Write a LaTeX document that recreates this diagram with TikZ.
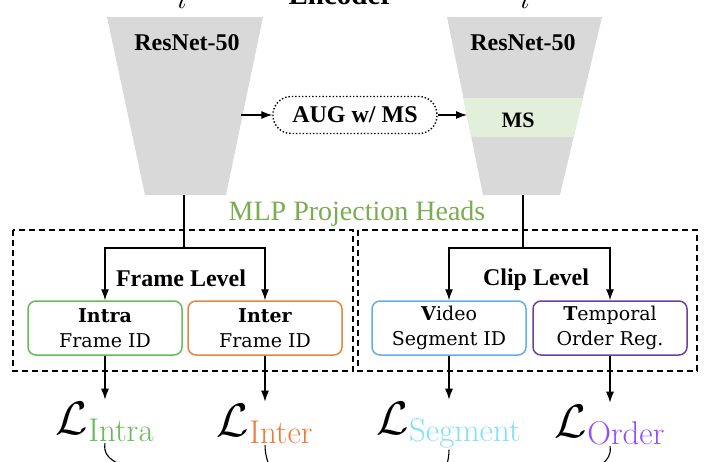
\documentclass[tikz,border=0pt]{standalone}
\usepackage{fix-cm}
\usepackage[no-math]{fontspec}
\setmainfont{Liberation Serif}
\newfontfamily\headfont{DejaVu Serif}
\usepackage{xcolor}
\usetikzlibrary{arrows.meta,positioning}

\definecolor{encgray}{RGB}{217,217,217}
\definecolor{msgreen}{RGB}{226,239,218}
\definecolor{mlpgreen}{RGB}{122,172,80}
\definecolor{intragreen}{RGB}{104,186,88}
\definecolor{interorange}{RGB}{224,136,62}
\definecolor{segblue}{RGB}{96,174,234}
\definecolor{orderpurple}{RGB}{108,64,160}
\definecolor{lossorange}{RGB}{236,124,60}
\definecolor{losscyan}{RGB}{130,222,255}
\definecolor{losspurple}{RGB}{140,80,255}

\begin{document}
\begin{tikzpicture}[
    x=1pt, y=-1pt,
    label/.style={font=\fontsize{24}{28}\selectfont\bfseries, inner sep=0pt},
    head/.style={rectangle, draw, rounded corners=8pt, line width=1.5pt, align=center, minimum width=154pt, minimum height=54pt, font=\headfont\fontsize{19}{25}\selectfont},
    group/.style={draw, dash pattern=on 6pt off 4pt, line width=1.2pt},
    arrow/.style={-{Latex[length=11pt,width=8pt]}, line width=1.2pt},
    loss/.style={font=\fontsize{47}{50}\selectfont, inner sep=2pt}
]
\useasboundingbox (0,0) rectangle (720,461);
\clip (0,0) rectangle (720,461);

\node[label, anchor=base, font=\fontsize{29}{30}\selectfont\bfseries] (enc) at (341,4) {Encoder};
\node[anchor=base, font=\fontsize{30}{30}\selectfont] (xa) at (182,8) {$i$};
\node[anchor=base, font=\fontsize{30}{30}\selectfont] (xb) at (525,8) {$i$};

\fill[encgray] (107,17) -- (263,17) -- (226,195) -- (145,195) -- cycle;
\begin{scope}
  \clip (447,17) -- (602,17) -- (560,195) -- (483,195) -- cycle;
  \fill[encgray] (440,10) rectangle (610,200);
  \fill[msgreen] (440,98) rectangle (610,137);
\end{scope}
\node[label] (res1) at (187,43) {ResNet-50};
\node[label] (res2) at (523,43) {ResNet-50};
\node[label, font=\fontsize{22}{26}\selectfont\bfseries] (ms) at (518,120) {MS};

\coordinate (e1out) at (241,115);
\coordinate (e2in) at (467,115);
\coordinate (e1bot) at (184,195);
\coordinate (e2bot) at (523,195);

\node[draw, dotted, line width=1.4pt, rounded corners=18pt, minimum width=164pt, minimum height=37pt, label, inner sep=0pt] (aug) at (355,115) {AUG w/ MS};
\draw[arrow] (e1out) -- (aug);
\draw[arrow] (aug) -- (e2in);

\node[font=\fontsize{28}{30}\selectfont, text=mlpgreen] (mlp) at (357,214) {MLP Projection Heads};
\draw[group] (13,230) rectangle (353,371);
\draw[group] (358,230) rectangle (697,371);

\node[label] (frame) at (181,278) {Frame Level};
\node[label] (clip) at (536,280) {Clip Level};

\node[head, draw=intragreen] (intra) at (105,328) {\textbf{Intra}\\Frame ID};
\node[head, draw=interorange] (inter) at (265,328) {\textbf{Inter}\\Frame ID};
\node[head, draw=segblue] (video) at (449,328) {\textbf{V}ideo\\Segment ID};
\node[head, draw=orderpurple] (order) at (610,328) {\textbf{T}emporal\\Order Reg.};

\draw[line width=1.2pt] (e1bot) -- ++(0,53) coordinate (fsplit);
\draw[arrow] (fsplit) -| (intra);
\draw[arrow] (fsplit) -| (inter);
\draw[line width=1.2pt] (e2bot) -- ++(0,53) coordinate (csplit);
\draw[arrow] (csplit) -| (video);
\draw[arrow] (csplit) -| (order);

\node[loss, anchor=base] (lintra) at (105,434) {$\mathcal{L}_{\color{intragreen}\mathrm{Intra}}$};
\node[loss, anchor=base] (linter) at (265,436) {$\mathcal{L}_{\color{lossorange}\mathrm{Inter}}$};
\node[loss, anchor=base] (lseg) at (449,434) {$\mathcal{L}_{\color{losscyan}\mathrm{Segment}}$};
\node[loss, anchor=base] (lorder) at (610,437) {$\mathcal{L}_{\color{losspurple}\mathrm{Order}}$};
\draw[arrow] (intra) -- (lintra);
\draw[arrow] (inter) -- (linter);
\draw[arrow] (video) -- (lseg);
\draw[arrow] (order) -- (lorder);

\coordinate (j1) at (145,478);
\coordinate (j2) at (272,480);
\coordinate (j3) at (444,480);
\coordinate (j4) at (582,478);
\draw[line width=1.1pt] (lintra.south) to[out=-100,in=140] (j1);
\draw[line width=1.1pt] (linter.south) to[out=-90,in=95] (j2);
\draw[line width=1.1pt] (lseg.south) to[out=-90,in=85] (j3);
\draw[line width=1.1pt] (lorder.south) to[out=-80,in=40] (j4);
\end{tikzpicture}
\end{document}
